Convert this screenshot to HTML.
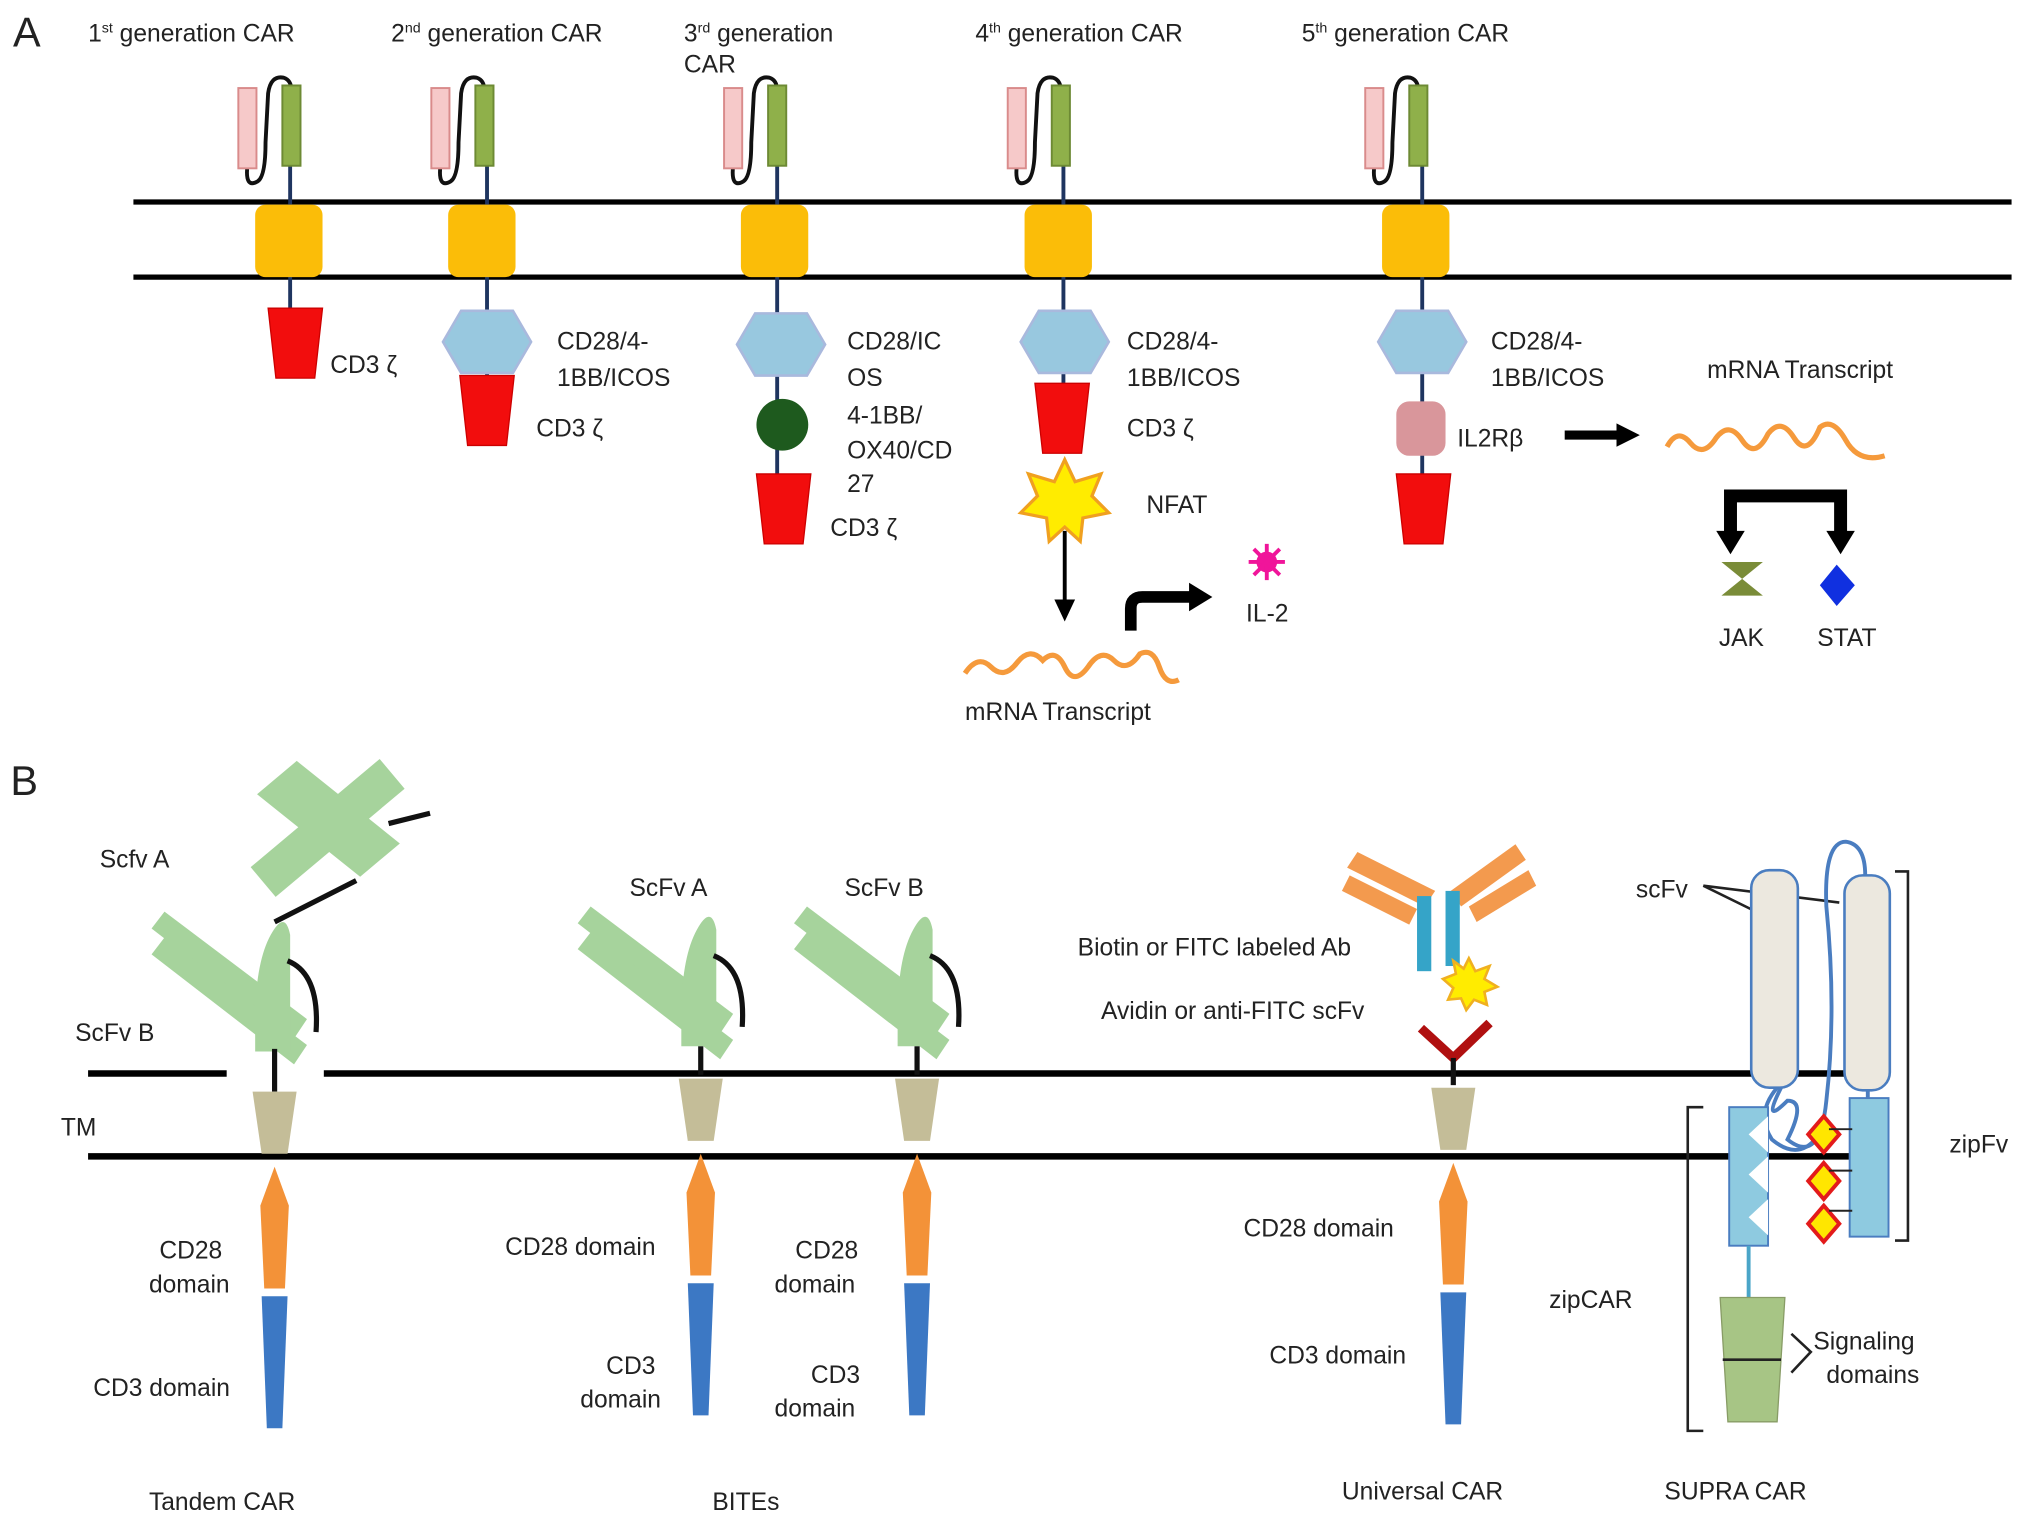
<!DOCTYPE html>
<html><head><meta charset="utf-8"><style>
html,body{margin:0;padding:0;background:#fff;}
svg{display:block;}
text{font-family:"Liberation Sans",Arial,sans-serif;fill:#222;font-size:19px;}
</style></head><body>
<svg width="2031" height="1528" viewBox="0 0 1568 1180" preserveAspectRatio="none" xmlns="http://www.w3.org/2000/svg">
<defs>
<g id="head">
  <path d="M-32 128 Q-34 146 -24 140 Q-18 136 -18 110 L-16 72 Q-14 58 -4 60 Q2 62 2 70" fill="none" stroke="#111" stroke-width="3"/>
  <rect x="-39" y="68" width="14" height="62" fill="#f6c9c9" stroke="#d98b8b" stroke-width="1.5"/>
  <rect x="-5" y="66" width="14" height="62" fill="#8fb04a" stroke="#6d8a34" stroke-width="1.5"/>
  <rect x="-26" y="158" width="52" height="56" rx="8" fill="#fbbd08"/>
</g>
<polygon id="trap" points="-21,0 21,0 15,54 -15,54" fill="#f20d0d" stroke="#c00" stroke-width="1"/>
<polygon id="hex" points="-34,24 -20,0 20,0 34,24 20,48 -20,48" fill="#98c8df" stroke="#a9b9dd" stroke-width="2"/>
<g id="chain">
  <polygon points="-17,0 17,0 10,48 -10,48" fill="#c4bd98"/>
  <polygon points="0,58 11,88 8,152 -8,152 -11,88" fill="#f39238"/>
  <polygon points="-10,158 10,158 6,260 -6,260" fill="#3c78c4"/>
</g>
<g id="scfv">
  <polygon points="-95,-95 -85,-108 25,-25 15,-10" fill="#a6d39c"/>
  <polygon points="-95,-75 -85,-88 25,-5 15,10" fill="#a6d39c"/>
  <path d="M-15,-30 Q-14,-70 -3,-90 Q8,-110 12,-90 L12,0 L-15,0 Z" fill="#a6d39c"/>
  <path d="M10,-70 Q35,-60 32,-15" fill="none" stroke="#111" stroke-width="4"/>
</g>
</defs>

<!-- Panel A -->
<text x="10" y="36" style="font-size:32px">A</text>
<text x="68" y="32">1<tspan dy="-7" style="font-size:11px">st</tspan><tspan dy="7"> generation CAR</tspan></text>
<text x="302" y="32">2<tspan dy="-7" style="font-size:11px">nd</tspan><tspan dy="7"> generation CAR</tspan></text>
<text x="528" y="32">3<tspan dy="-7" style="font-size:11px">rd</tspan><tspan dy="7"> generation</tspan></text>
<text x="528" y="56">CAR</text>
<text x="753" y="32">4<tspan dy="-7" style="font-size:11px">th</tspan><tspan dy="7"> generation CAR</tspan></text>
<text x="1005" y="32">5<tspan dy="-7" style="font-size:11px">th</tspan><tspan dy="7"> generation CAR</tspan></text>

<line x1="103" y1="156" x2="1553" y2="156" stroke="#000" stroke-width="4"/>
<line x1="103" y1="214" x2="1553" y2="214" stroke="#000" stroke-width="4"/>

<g stroke="#1f3560" stroke-width="3">
<line x1="224" y1="128" x2="224" y2="240"/>
<line x1="376" y1="128" x2="376" y2="300"/>
<line x1="600" y1="128" x2="600" y2="370"/>
<line x1="821" y1="128" x2="821" y2="300"/>
<line x1="1098" y1="128" x2="1098" y2="370"/>
</g>
<use href="#head" x="223" y="0"/>
<use href="#head" x="372" y="0"/>
<use href="#head" x="598" y="0"/>
<use href="#head" x="817" y="0"/>
<use href="#head" x="1093" y="0"/>

<use href="#trap" x="228" y="238"/>
<text x="255" y="288">CD3 ζ</text>
<use href="#hex" x="376" y="240"/>
<use href="#trap" x="376" y="290"/>
<text x="430" y="270">CD28/4-</text><text x="430" y="298">1BB/ICOS</text>
<text x="414" y="337">CD3 ζ</text>
<use href="#hex" x="603" y="242"/>
<circle cx="604" cy="328" r="20" fill="#1e5a1e"/>
<use href="#trap" x="605" y="366"/>
<text x="654" y="270">CD28/IC</text><text x="654" y="298">OS</text>
<text x="654" y="327">4-1BB/</text><text x="654" y="354">OX40/CD</text><text x="654" y="380">27</text>
<text x="641" y="414">CD3 ζ</text>
<use href="#hex" x="822" y="240"/>
<use href="#trap" x="820" y="296"/>
<text x="870" y="270">CD28/4-</text><text x="870" y="298">1BB/ICOS</text>
<text x="870" y="337">CD3 ζ</text>
<polygon points="822,355 830,372 850,366 843,383 856,396 836,400 834,418 822,407 810,418 808,400 788,396 801,383 794,366 814,372" fill="#ffec00" stroke="#f0a020" stroke-width="2.5"/>
<text x="885" y="396">NFAT</text>
<line x1="822" y1="410" x2="822" y2="465" stroke="#000" stroke-width="3"/>
<polygon points="814,463 830,463 822,480" fill="#000"/>
<path d="M873 487 L873 470 Q873 461 882 461 L920 461" fill="none" stroke="#000" stroke-width="9"/>
<polygon points="918,450 936,461 918,472" fill="#000"/>
<g fill="#f0159a"><circle cx="978" cy="434" r="8"/>
<g stroke="#f0159a" stroke-width="3"><line x1="978" y1="420" x2="978" y2="448"/><line x1="964" y1="434" x2="992" y2="434"/><line x1="968" y1="424" x2="988" y2="444"/><line x1="988" y1="424" x2="968" y2="444"/></g></g>
<text x="962" y="480">IL-2</text>
<path d="M745 520 Q755 505 765 515 T785 512 T805 510 Q815 500 822 515 T840 515 Q850 500 860 510 T880 505 Q890 500 895 515 T910 525" fill="none" stroke="#f59a3c" stroke-width="4"/>
<text x="745" y="556">mRNA Transcript</text>
<use href="#hex" x="1098" y="240"/>
<rect x="1078" y="310" width="38" height="42" rx="10" fill="#d9969b"/>
<use href="#trap" x="1099" y="366"/>
<text x="1151" y="270">CD28/4-</text><text x="1151" y="298">1BB/ICOS</text>
<text x="1125" y="345">IL2Rβ</text>
<line x1="1208" y1="336" x2="1250" y2="336" stroke="#000" stroke-width="7"/>
<polygon points="1248,327 1266,336 1248,345" fill="#000"/>
<text x="1318" y="292">mRNA Transcript</text>
<path d="M1287 345 Q1295 330 1305 342 T1325 338 Q1335 325 1345 340 T1365 335 Q1375 322 1385 338 T1405 330 Q1415 322 1425 340 T1455 352" fill="none" stroke="#f59a3c" stroke-width="4"/>
<path d="M1336 412 L1336 383 L1421 383 L1421 412" fill="none" stroke="#000" stroke-width="10"/>
<polygon points="1325,410 1347,410 1336,428" fill="#000"/>
<polygon points="1410,410 1432,410 1421,428" fill="#000"/>
<polygon points="1329,434 1361,434 1345,447 1361,460 1329,460 1345,447" fill="#7a8c38"/>
<polygon points="1418,436 1432,452 1418,468 1405,452" fill="#1030e0"/>
<text x="1327" y="499">JAK</text><text x="1403" y="499">STAT</text>

<!-- Panel B -->
<text x="8" y="614" style="font-size:32px">B</text>
<line x1="68" y1="829" x2="1432" y2="829" stroke="#000" stroke-width="5"/>
<line x1="68" y1="893" x2="1430" y2="893" stroke="#000" stroke-width="5"/>
<rect x="175" y="812" width="75" height="24" fill="#fff"/>

<use href="#scfv" x="212" y="812" />
<g transform="translate(260,640) rotate(-40)">
  <polygon points="-70,-20 60,-20 60,10 -70,10" fill="#a6d39c"/>
  <polygon points="-30,-60 10,-60 30,40 -10,40" fill="#a6d39c"/>
</g>
<line x1="332" y1="628" x2="300" y2="636" stroke="#111" stroke-width="4"/>
<line x1="212" y1="712" x2="275" y2="680" stroke="#111" stroke-width="4"/>
<line x1="212" y1="810" x2="212" y2="843" stroke="#111" stroke-width="4"/>
<use href="#chain" x="212" y="843"/>
<text x="123" y="972">CD28</text><text x="115" y="998">domain</text>
<text x="72" y="1078">CD3 domain</text>
<text x="58" y="804">ScFv B</text>
<text x="47" y="877">TM</text>
<text x="77" y="670">Scfv A</text>
<text x="115" y="1166">Tandem CAR</text>

<use href="#scfv" x="541" y="808"/>
<line x1="541" y1="808" x2="541" y2="830" stroke="#111" stroke-width="4"/>
<use href="#chain" x="541" y="833"/>
<use href="#scfv" x="708" y="808"/>
<line x1="708" y1="808" x2="708" y2="830" stroke="#111" stroke-width="4"/>
<use href="#chain" x="708" y="833"/>
<text x="486" y="692">ScFv A</text><text x="652" y="692">ScFv B</text>
<text x="390" y="969">CD28 domain</text>
<text x="468" y="1061">CD3</text><text x="448" y="1087">domain</text>
<text x="614" y="972">CD28</text><text x="598" y="998">domain</text>
<text x="626" y="1068">CD3</text><text x="598" y="1094">domain</text>
<text x="550" y="1166">BITEs</text>

<g fill="#f39a4e">
<polygon points="1040,670 1048,658 1108,688 1100,700"/>
<polygon points="1036,688 1042,676 1094,702 1088,714"/>
<polygon points="1120,688 1170,652 1178,664 1128,700"/>
<polygon points="1134,700 1180,672 1186,684 1140,712"/>
</g>
<rect x="1094" y="692" width="11" height="58" fill="#35a4c8"/>
<rect x="1116" y="688" width="11" height="58" fill="#35a4c8"/>
<polygon points="1134,740 1139,750 1150,746 1146,756 1156,762 1146,766 1148,776 1138,772 1132,780 1128,771 1118,772 1122,763 1114,756 1124,752 1122,742 1130,748" fill="#ffec00" stroke="#f0b020" stroke-width="2"/>
<path d="M1097 794 L1122 817 L1150 790" fill="none" stroke="#b01010" stroke-width="7"/>
<line x1="1122" y1="817" x2="1122" y2="838" stroke="#111" stroke-width="4"/>
<use href="#chain" x="1122" y="840"/>
<text x="832" y="738">Biotin or FITC labeled Ab</text>
<text x="850" y="787">Avidin or anti-FITC scFv</text>
<text x="960" y="955">CD28 domain</text>
<text x="980" y="1053">CD3 domain</text>
<text x="1036" y="1158">Universal CAR</text>

<text x="1263" y="693">scFv</text>
<line x1="1315" y1="684" x2="1372" y2="712" stroke="#222" stroke-width="2"/>
<line x1="1315" y1="684" x2="1420" y2="697" stroke="#222" stroke-width="2"/>
<rect x="1352" y="672" width="36" height="168" rx="14" fill="#ece8df" stroke="#4a7dc0" stroke-width="2"/>
<rect x="1424" y="676" width="35" height="166" rx="14" fill="#ece8df" stroke="#4a7dc0" stroke-width="2"/>
<path d="M1375 840 Q1360 870 1380 850 Q1395 850 1380 880 Q1405 900 1410 850 Q1418 780 1410 700 Q1408 650 1425 650 Q1440 652 1440 676" fill="none" stroke="#4a7dc0" stroke-width="3"/>
<path d="M1372 840 Q1355 860 1368 880 Q1392 900 1408 870" fill="none" stroke="#4a7dc0" stroke-width="3"/>
<line x1="1442" y1="842" x2="1442" y2="850" stroke="#4a7dc0" stroke-width="3"/>
<rect x="1428" y="848" width="30" height="107" fill="#8ecae0" stroke="#4a7dc0" stroke-width="1.5"/>
<path d="M1463 673 L1473 673 L1473 958 L1463 958" fill="none" stroke="#222" stroke-width="2"/>
<text x="1505" y="890">zipFv</text>
<rect x="1335" y="855" width="30" height="107" fill="#8ecae0" stroke="#4a7dc0" stroke-width="1.5"/>
<g fill="#fff"><polygon points="1365,862 1350,876 1365,890"/><polygon points="1365,893 1350,907 1365,921"/><polygon points="1365,926 1350,940 1365,954"/></g>
<g fill="#ffe600" stroke="#e31b1b" stroke-width="3">
<polygon points="1408,862 1420,876 1408,890 1396,876"/>
<polygon points="1408,898 1420,912 1408,926 1396,912"/>
<polygon points="1408,931 1420,945 1408,959 1396,945"/>
</g>
<g stroke="#222" stroke-width="1.5"><line x1="1412" y1="872" x2="1430" y2="872"/><line x1="1412" y1="904" x2="1430" y2="904"/><line x1="1412" y1="935" x2="1430" y2="935"/></g>
<line x1="1350" y1="962" x2="1350" y2="1002" stroke="#4aa5c8" stroke-width="3"/>
<polygon points="1328,1002 1378,1002 1372,1098 1334,1098" fill="#a7c585" stroke="#889c66" stroke-width="1"/>
<line x1="1330" y1="1050" x2="1375" y2="1050" stroke="#222" stroke-width="2"/>
<path d="M1383 1030 L1398 1044 L1383 1060" fill="none" stroke="#222" stroke-width="2"/>
<text x="1400" y="1042">Signaling</text><text x="1410" y="1068">domains</text>
<path d="M1315 855 L1303 855 L1303 1105 L1315 1105" fill="none" stroke="#222" stroke-width="2"/>
<text x="1196" y="1010">zipCAR</text>
<text x="1285" y="1158">SUPRA CAR</text>
</svg>
</body></html>
